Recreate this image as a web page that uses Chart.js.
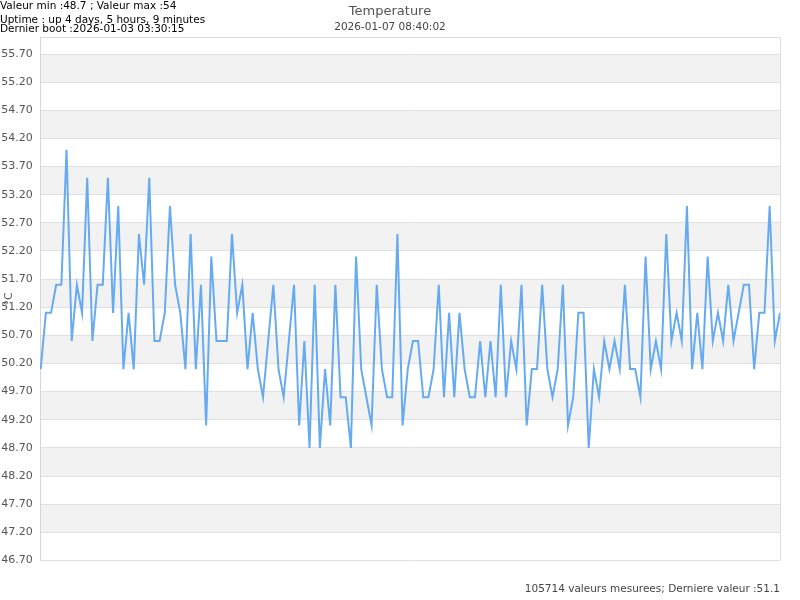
<!DOCTYPE html>
<html>
<head>
<meta charset="utf-8">
<script src="https://cdn.jsdelivr.net/npm/chart.js@4/dist/chart.umd.min.js"></script>
<style>
  body { margin: 0; background: #fff; font-family: 'DejaVu Sans', sans-serif; }
  #wrap { position: relative; width: 800px; height: 600px; }
  .info { position: absolute; left: 0; font-size: 10.5px; line-height: 11px; color: #000; white-space: nowrap; }
</style>
</head>
<body>
<div id="wrap">
  <canvas id="tempChart" width="800" height="600"></canvas>
  <div class="info" style="top:0px">Valeur min :48.7 ; Valeur max :54</div>
  <div class="info" style="top:13.5px">Uptime : up 4 days, 5 hours, 9 minutes</div>
  <div class="info" style="top:23px">Dernier boot :2026-01-03 03:30:15</div>
</div>
<script>
// temperature readings (°C), oldest first
const temperatures = [
    50.1, 51.1, 51.1, 51.6, 51.6, 54.0, 50.6, 51.6, 51.1, 53.5,
    50.6, 51.6, 51.6, 53.5, 51.1, 53.0, 50.1, 51.1, 50.1, 52.5,
    51.6, 53.5, 50.6, 50.6, 51.1, 53.0, 51.6, 51.1, 50.1, 52.5,
    50.1, 51.6, 49.1, 52.1, 50.6, 50.6, 50.6, 52.5, 51.1, 51.6,
    50.1, 51.1, 50.1, 49.6, 50.6, 51.6, 50.1, 49.6, 50.6, 51.6,
    49.1, 50.6, 48.7, 51.6, 48.7, 50.1, 49.1, 51.6, 49.6, 49.6,
    48.7, 52.1, 50.1, 49.6, 49.1, 51.6, 50.1, 49.6, 49.6, 52.5,
    49.1, 50.1, 50.6, 50.6, 49.6, 49.6, 50.1, 51.6, 49.6, 51.1,
    49.6, 51.1, 50.1, 49.6, 49.6, 50.6, 49.6, 50.6, 49.6, 51.6,
    49.6, 50.6, 50.1, 51.6, 49.1, 50.1, 50.1, 51.6, 50.1, 49.6,
    50.1, 51.6, 49.1, 49.6, 51.1, 51.1, 48.7, 50.1, 49.6, 50.6,
    50.1, 50.6, 50.1, 51.6, 50.1, 50.1, 49.6, 52.1, 50.1, 50.6,
    50.1, 52.5, 50.6, 51.1, 50.6, 53.0, 50.1, 51.1, 50.1, 52.1,
    50.6, 51.1, 50.6, 51.6, 50.6, 51.1, 51.6, 51.6, 50.1, 51.1,
    51.1, 53.0, 50.6, 51.1
];
const sampleLabels = temperatures.map((_, i) => String(i + 1));
const yTicks = [46.7, 47.2, 47.7, 48.2, 48.7, 49.2, 49.7, 50.2, 50.7,
                51.2, 51.7, 52.2, 52.7, 53.2, 53.7, 54.2, 54.7, 55.2, 55.7];

const chartTitle = 'Temperature';
const chartDate = '2026-01-07 08:40:02';
const footerText = '105714 valeurs mesurees; Derniere valeur :51.1';

Chart.defaults.font.family = "'DejaVu Sans', sans-serif";
Chart.defaults.font.size = 11;
Chart.defaults.color = '#555';

// alternate grey bands between every other pair of y ticks
const bandsPlugin = {
    id: 'bands',
    beforeDraw(chart) {
        const { ctx, chartArea, scales } = chart;
        const y = scales.y;
        ctx.save();
        ctx.fillStyle = '#f2f2f2';
        for (let i = 1; i < y.ticks.length - 1; i += 2) {
            const top = y.getPixelForValue(y.ticks[i + 1].value);
            const bottom = y.getPixelForValue(y.ticks[i].value);
            ctx.fillRect(chartArea.left, top, chartArea.right - chartArea.left, bottom - top);
        }
        ctx.restore();
    },
    afterDatasetsDraw(chart) {
        const { ctx, chartArea } = chart;
        ctx.save();
        ctx.strokeStyle = '#dcdcdc';
        ctx.lineWidth = 1;
        ctx.beginPath();
        ctx.moveTo(Math.round(chartArea.left), Math.round(chartArea.top) + 0.5);
        ctx.lineTo(Math.round(chartArea.right) + 0.5, Math.round(chartArea.top) + 0.5);
        ctx.lineTo(Math.round(chartArea.right) + 0.5, Math.round(chartArea.bottom));
        ctx.stroke();
        ctx.restore();
    }
};

const ctx = document.getElementById('tempChart');
new Chart(ctx, {
    type: 'line',
    data: {
        labels: sampleLabels,
        datasets: [{
            label: 'Temperature',
            data: temperatures,
            borderColor: '#66abf0',
            borderWidth: 2,
            pointRadius: 0,
            tension: 0,
            fill: false
        }]
    },
    options: {
        responsive: false,
        animation: false,
        layout: { padding: { left: 0, right: 20, top: 0, bottom: 0 } },
        plugins: {
            legend: { display: false },
            tooltip: { enabled: false },
            title: {
                display: true,
                text: chartTitle,
                color: '#555',
                font: { size: 13, weight: 'normal' },
                padding: { top: 4, bottom: 0 }
            },
            subtitle: {
                display: true,
                text: chartDate,
                color: '#444',
                font: { size: 10.5 },
                padding: { top: 1, bottom: 4 }
            }
        },
        scales: {
            x: {
                ticks: { display: false },
                grid: { display: false, drawTicks: false },
                border: { display: false },
                title: {
                    display: true,
                    text: footerText,
                    align: 'end',
                    color: '#444',
                    font: { size: 10.5 },
                    padding: { top: 23, bottom: 4 }
                }
            },
            y: {
                min: 46.7,
                max: 56,
                afterBuildTicks: (scale) => {
                    scale.ticks = yTicks.map(v => ({ value: v }));
                },
                ticks: {
                    padding: 8,
                    color: '#555',
                    callback: (v) => Number(v).toFixed(2)
                },
                grid: { color: '#e0e0e0', drawTicks: false },
                border: { color: '#d6d6d6' },
                title: {
                    display: true,
                    text: '°C',
                    color: '#555',
                    padding: { top: 3, bottom: -23 }
                }
            }
        }
    },
    plugins: [bandsPlugin]
});
</script>
</body>
</html>
